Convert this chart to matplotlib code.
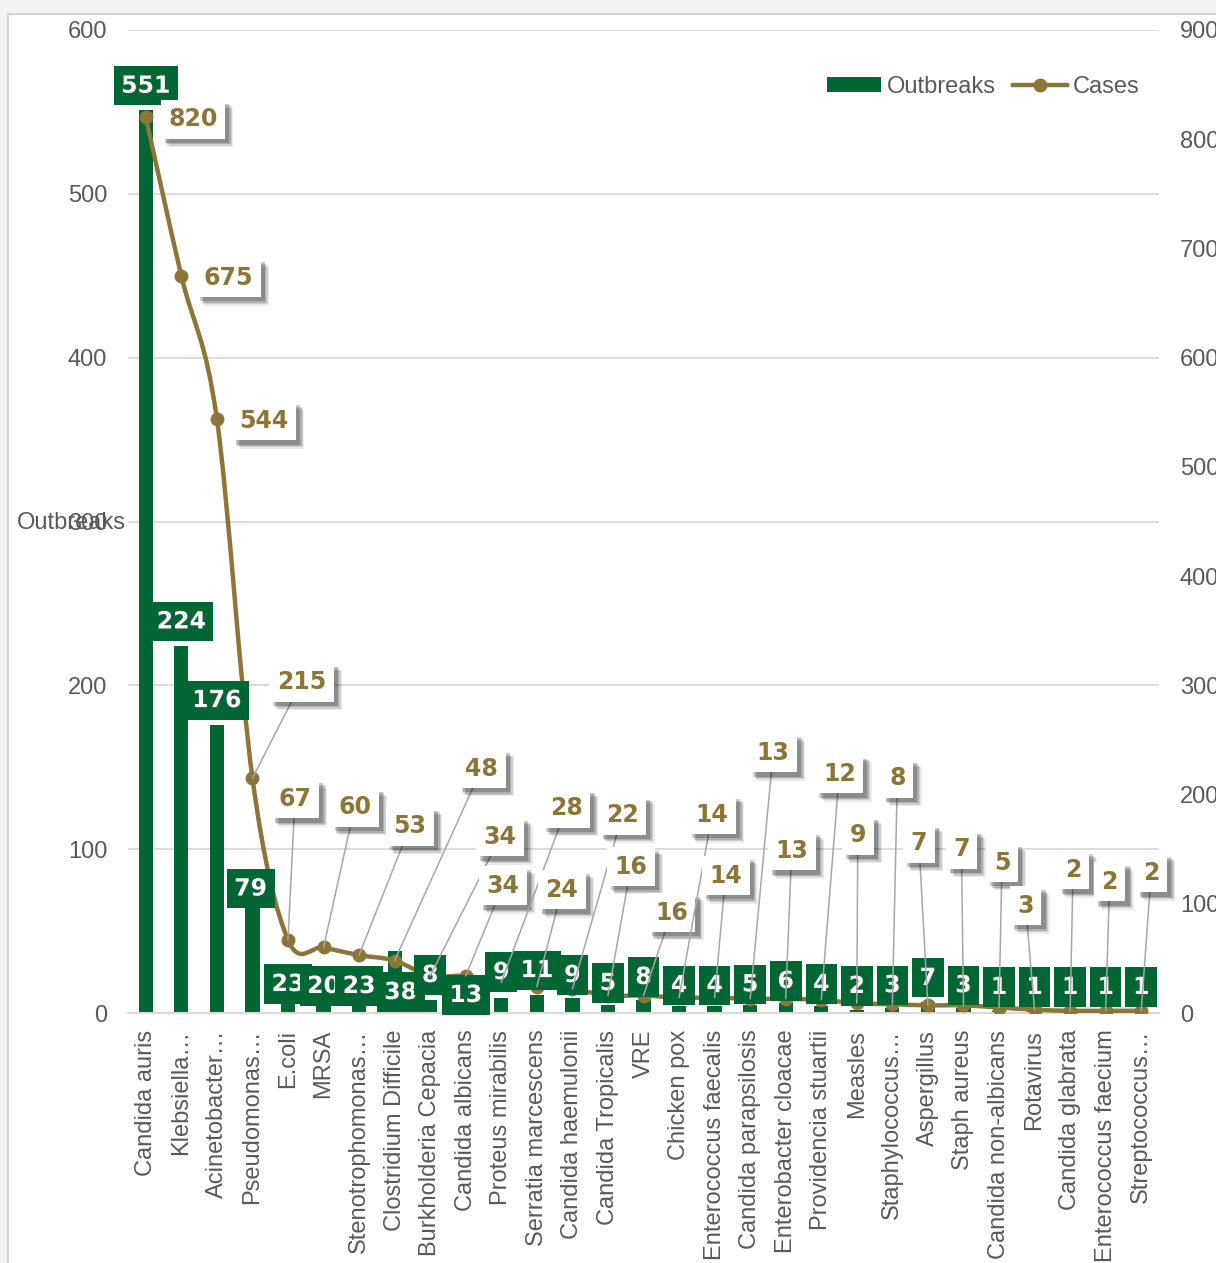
import matplotlib
matplotlib.use('Agg')
import matplotlib.pyplot as plt
from matplotlib.path import Path
from matplotlib.patches import PathPatch, Rectangle, Patch
from matplotlib.lines import Line2D
import matplotlib.patheffects as pe
import numpy as np

# ---------------- data ----------------
categories = ["Candida auris", "Klebsiella…", "Acinetobacter…", "Pseudomonas…", "E.coli",
              "MRSA", "Stenotrophomonas…", "Clostridium Difficile", "Burkholderia Cepacia",
              "Candida albicans", "Proteus mirabilis", "Serratia marcescens",
              "Candida haemulonii", "Candida Tropicalis", "VRE", "Chicken pox",
              "Enterococcus faecalis", "Candida parapsilosis", "Enterobacter cloacae",
              "Providencia stuartii", "Measles", "Staphylococcus…", "Aspergillus",
              "Staph aureus", "Candida non-albicans", "Rotavirus", "Candida glabrata",
              "Enterococcus faecium", "Streptococcus…"]
outbreaks = [551, 224, 176, 79, 23, 20, 23, 38, 8, 13, 9, 11, 9, 5, 8, 4, 4, 5, 6, 4,
             2, 3, 7, 3, 1, 1, 1, 1, 1]
cases = [820, 675, 544, 215, 67, 60, 53, 48, 34, 34, 28, 24, 22, 16, 16, 14, 14, 13, 13,
         12, 9, 8, 7, 7, 5, 3, 2, 2, 2]
left_ticks = [0, 100, 200, 300, 400, 500, 600]
right_ticks = [0, 100, 200, 300, 400, 500, 600, 700, 800, 900]

# ---------------- layout (label placement, not data) ----------------
bar_label_y = [566, 239, 191, 76, 17.7, 16.5, 16.5, 12.8, 23.2, 11, 25, 26.2, 23.2, 18.3,
               22, 17, 17, 17.5, 19.5, 17.7, 16.5, 17, 21.4, 17, 15.9, 15.9, 15.9, 15.9, 15.9]
bar_label_dx = [0, 0, 0, -0.05, 0, 0, 0, 0.17, 0, 0, 0, 0, 0, 0, 0, 0, 0, 0, 0, 0,
                0, 0, 0, 0, 0, 0, 0, 0, 0]
case_label_off = [(47, -2), (47, -2), (47, -2), (49, 96), (7, 141), (31, 140), (51, 129),
                  (87, 192), (70, 139), (37, 90), (65, 174), (25, 97), (50, 174), (23, 129),
                  (28, 83), (33, 183), (11, 122), (23, 246), (6, 148), (18, 226), (1, 168),
                  (5, 226), (-9, 162), (-2, 156), (3, 145), (-9, 104), (3, 141), (4, 129),
                  (10, 138)]

GREEN = '#006633'
OLIVE = '#8C7537'
GRAY_TXT = '#595959'
GRID = '#d9d9d9'

plt.rcParams['font.family'] = ['Liberation Sans', 'DejaVu Sans']

W, H = 1216, 1263
fig = plt.figure(figsize=(W / 100, H / 100), dpi=100, facecolor='#f2f2f2')
fig.add_artist(Rectangle((8 / W, -0.01), 1.0, 1 - 14 / H + 0.01, transform=fig.transFigure,
                         facecolor='white', edgecolor='#d4d4d4', lw=1.5, zorder=-10))

ax = fig.add_axes([128 / W, 250 / H, 1031 / W, 983 / H])
ax.set_facecolor('none')
x = np.arange(len(categories))
ax.bar(x, outbreaks, width=0.4, color=GREEN, zorder=2)
ax.set_xlim(-0.5, len(categories) - 0.5)
ax.set_ylim(0, 600)
ax.set_yticks(left_ticks)
ax.grid(axis='y', color=GRID, lw=1.3)
ax.set_axisbelow(True)
for s in ['top', 'right', 'left']:
    ax.spines[s].set_visible(False)
ax.spines['bottom'].set_color(GRID)
ax.spines['bottom'].set_linewidth(1.5)
ax.tick_params(axis='y', length=0, pad=15, labelsize=17, labelcolor=GRAY_TXT)
ax.set_xticks(x)
ax.set_xticklabels(categories, rotation=90, fontsize=17, color=GRAY_TXT)
ax.tick_params(axis='x', length=0, pad=12)

ax2 = ax.twinx()
ax2.set_ylim(0, 900)
ax2.set_yticks(right_ticks)
for s in ax2.spines.values():
    s.set_visible(False)
ax2.tick_params(axis='y', length=0, pad=15, labelsize=17, labelcolor=GRAY_TXT)

# smooth line (Catmull-Rom as cubic Bezier segments through the data points)
pts = np.column_stack([x, cases]).astype(float)
n = len(pts)
verts = [pts[0]]
codes = [Path.MOVETO]
for i in range(n - 1):
    p0 = pts[max(i - 1, 0)]
    p1 = pts[i]
    p2 = pts[i + 1]
    p3 = pts[min(i + 2, n - 1)]
    verts += [p1 + (p2 - p0) / 6.0, p2 - (p3 - p1) / 6.0, p2]
    codes += [Path.CURVE4] * 3
ax2.add_patch(PathPatch(Path(verts, codes), facecolor='none', edgecolor=OLIVE, lw=3.2,
                        capstyle='round', joinstyle='round', transform=ax2.transData, zorder=3))
ax2.plot(x, cases, 'o', color=OLIVE, ms=9, zorder=4)

LABEL_FONT = dict(fontsize=17, fontweight='bold', family='DejaVu Sans')

# bar labels (drawn on ax2 so they sit above the line)
for i, v in enumerate(outbreaks):
    t = ax2.text(i + bar_label_dx[i], bar_label_y[i], str(v), transform=ax.transData,
                 ha='center', va='center', color='white', zorder=5,
                 bbox=dict(boxstyle='square,pad=0.32', fc=GREEN, ec='none'), **LABEL_FONT)
    t.set_path_effects([pe.withSimplePatchShadow(offset=(1, -1), alpha=0.4)])

# case labels with leader lines
for i, v in enumerate(cases):
    dx, dy = case_label_off[i]
    leader = (dx * dx + dy * dy) > 60 * 60
    ann = ax2.annotate(str(v), xy=(i, v), xytext=(dx, dy), textcoords='offset pixels',
                       ha='center', va='center', color=OLIVE, zorder=6 + i * 0.01,
                       bbox=dict(boxstyle='square,pad=0.32', fc='white', ec='none'),
                       arrowprops=(dict(arrowstyle='-', color='#a6a6a6', lw=1.1,
                                        shrinkA=0, shrinkB=0) if leader else None),
                       **LABEL_FONT)
    ann.get_bbox_patch().set_path_effects([
        pe.SimplePatchShadow(offset=(6, -6), shadow_rgbFace='black', alpha=0.08),
        pe.SimplePatchShadow(offset=(5, -5), shadow_rgbFace='black', alpha=0.12),
        pe.SimplePatchShadow(offset=(4, -4), shadow_rgbFace='black', alpha=0.15),
        pe.SimplePatchShadow(offset=(3, -3), shadow_rgbFace='black', alpha=0.2),
        pe.Normal()])

# legend
handles = [Patch(facecolor=GREEN, edgecolor='none'),
           Line2D([0], [0], color=OLIVE, lw=3.2, marker='o', ms=9)]
fig.legend(handles, ['Outbreaks', 'Cases'], loc='center right', ncol=2, frameon=False,
           bbox_to_anchor=(1161 / W, 1 - 87 / H), fontsize=17, labelcolor=GRAY_TXT,
           handlelength=2.3, handletextpad=0.25, columnspacing=0.7, handleheight=0.6)

fig.text(17 / W, 1 - 523 / H, 'Outbreaks', ha='left', va='center', fontsize=17, color=GRAY_TXT)

fig.savefig('out.png', dpi=100, facecolor=fig.get_facecolor())
